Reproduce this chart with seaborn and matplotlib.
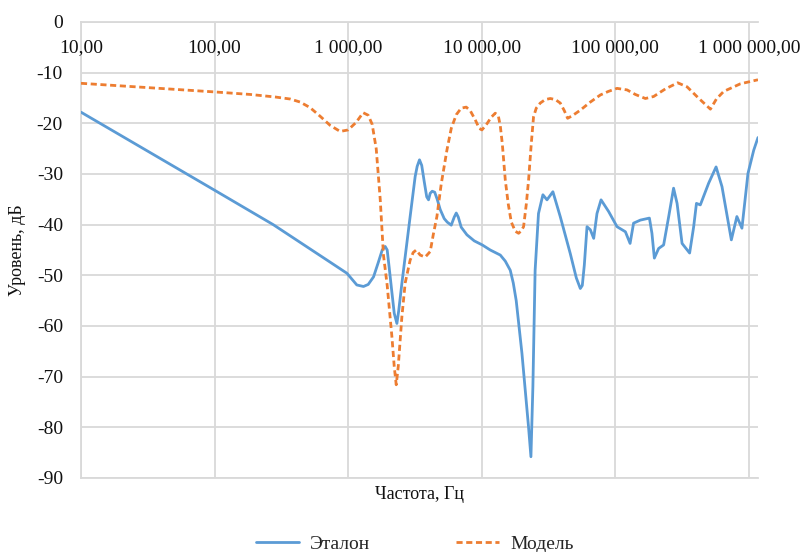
import numpy as np
import pandas as pd
import matplotlib
matplotlib.use("Agg")
import matplotlib.pyplot as plt
import seaborn as sns
from matplotlib.ticker import FixedLocator, NullLocator

# ---- data ----
freq_etalon = [10, 100, 275, 733, 980, 1161, 1302, 1413, 1549, 1679, 1799, 1893, 1960,
               2029, 2118, 2213, 2317, 2390, 2524, 2911, 3174, 3286, 3420, 3554, 3711,
               3873, 3996, 4115, 4259, 4446, 4643, 4887, 5236, 5518, 5913, 6226, 6446,
               6673, 7020, 7745, 8790, 10090, 11580, 13770, 15010, 16350, 17220, 18120,
               20000, 22400, 23350, 24150, 25100, 26600, 28700, 30800, 34100, 38700,
               46000, 51050, 54700, 56600, 58600, 61400, 65000, 68900, 72900, 78200,
               89100, 103000, 119000, 129000, 137000, 154000, 180000, 188000, 196000,
               211000, 230000, 251000, 273000, 290000, 316000, 360000, 386000, 405000,
               433000, 500000, 568000, 629000, 739000, 813000, 887000, 984000, 1087000,
               1170000]
level_etalon = [-17.8, -33.2, -40.0, -47.4, -49.6, -51.9, -52.2, -51.8, -50.3, -47.5, -45.0,
                -44.3, -45.0, -48.5, -53.0, -57.5, -59.5, -57.0, -51.6, -38.4, -30.5, -28.5,
                -27.2, -28.3, -31.5, -34.5, -35.1, -33.8, -33.4, -33.6, -35.0, -37.0, -38.8,
                -39.5, -40.1, -38.5, -37.7, -38.5, -40.5, -42.0, -43.2, -44.0, -45.0, -46.0,
                -47.2, -49.0, -51.5, -55.0, -65.4, -79.9, -85.8, -72.0, -49.0, -37.8, -34.1,
                -35.1, -33.5, -38.4, -45.7, -50.5, -52.6, -52.0, -48.0, -40.4, -41.0, -42.7,
                -37.8, -35.1, -37.4, -40.4, -41.4, -43.7, -39.7, -39.1, -38.7, -41.7, -46.6,
                -44.7, -44.0, -38.4, -32.8, -35.8, -43.7, -45.6, -40.4, -35.8, -36.1, -31.8,
                -28.6, -32.5, -43.0, -38.4, -40.7, -29.9, -25.3, -22.8]

freq_model = [10, 100, 185, 284, 368, 437, 519, 617, 733, 871, 1000, 1148, 1295, 1413,
              1513, 1622, 1738, 1838, 1960, 2124, 2213, 2290, 2371, 2524, 2673, 2911,
              3067, 3230, 3460, 3773, 4115, 4335, 4617, 4973, 5486, 5913, 6446, 7020,
              7656, 8203, 8939, 9578, 10030, 10800, 11780, 12620, 13300, 13770, 14250,
              15010, 15810, 16650, 17830, 18880, 19780, 20570, 21550, 22420, 23490,
              24430, 25600, 27420, 29920, 32590, 35550, 38730, 41500, 43950, 47650,
              54700, 65010, 77270, 88720, 103000, 122400, 141200, 167900, 193700,
              237100, 293200, 344600, 418900, 515100, 571100, 647700, 863600, 1170000]
level_model = [-12.1, -13.8, -14.3, -14.8, -15.2, -15.8, -16.9, -18.6, -20.4, -21.6, -21.3,
               -19.8, -17.9, -18.4, -20.2, -25.0, -35.0, -46.0, -52.0, -62.0, -68.0, -71.6,
               -68.0, -58.2, -51.5, -47.0, -45.5, -45.0, -46.0, -46.4, -45.3, -42.0, -38.4,
               -32.0, -25.3, -21.0, -18.3, -17.0, -16.8, -17.5, -19.3, -21.0, -21.3, -20.3,
               -18.8, -18.0, -18.5, -20.5, -24.0, -31.2, -36.0, -39.5, -41.3, -41.7, -41.2,
               -40.4, -36.0, -31.2, -24.0, -18.7, -17.0, -16.0, -15.3, -15.1, -15.3, -16.0,
               -17.5, -19.0, -18.5, -17.4, -15.8, -14.4, -13.7, -13.1, -13.4, -14.3, -15.1,
               -14.7, -13.2, -12.0, -12.8, -15.0, -17.2, -15.2, -13.7, -12.2, -11.4]

x_ticks = [10, 100, 1000, 10000, 100000, 1000000]
x_tick_labels = ["10,00", "100,00", "1 000,00", "10 000,00", "100 000,00", "1 000 000,00"]
y_ticks = [0, -10, -20, -30, -40, -50, -60, -70, -80, -90]
y_tick_labels = ["0", "-10", "-20", "-30", "-40", "-50", "-60", "-70", "-80", "-90"]

series_names = ["Эталон", "Модель"]
colors = ["#5B9BD5", "#ED7D31"]

# ---- plotting ----
sns.set_theme(style="white")
plt.rcParams["font.family"] = ["Liberation Serif", "DejaVu Serif"]

fig = plt.figure(figsize=(8.03, 5.52), dpi=100)
ax = fig.add_axes([81 / 803, 1 - 478 / 552, (758 - 81) / 803, (478 - 22) / 552])

df_e = pd.DataFrame({"f": freq_etalon, "L": level_etalon})
df_m = pd.DataFrame({"f": freq_model, "L": level_model})

sns.lineplot(data=df_e, x="f", y="L", ax=ax, color=colors[0], linewidth=2.0,
             label=series_names[0], sort=False)
sns.lineplot(data=df_m, x="f", y="L", ax=ax, color=colors[1], linewidth=2.0,
             linestyle=(0, (2.2, 1.3)), label=series_names[1], sort=False)
for line in ax.get_lines():
    line.set_solid_joinstyle("round")
    line.set_dash_joinstyle("round")
    line.set_zorder(3)

ax.set_xscale("log")
ax.set_xlim(10, 1170000)
ax.set_ylim(-90, 0)

ax.xaxis.set_major_locator(FixedLocator(x_ticks))
ax.xaxis.set_minor_locator(NullLocator())
ax.set_xticklabels(x_tick_labels)
ax.set_yticks(y_ticks)
ax.set_yticklabels(y_tick_labels)

ax.tick_params(axis="x", bottom=False, top=False, labelbottom=False, labeltop=True,
               labelsize=14, pad=-24.5, colors="#111111", length=0)
ax.tick_params(axis="y", left=False, labelsize=14, pad=13, colors="#111111", length=0)

ax.grid(True, which="major", color="#d9d9d9", linewidth=1.3)
ax.spines["right"].set_visible(False)
for side in ["left", "top", "bottom"]:
    ax.spines[side].set_color("#d9d9d9")
    ax.spines[side].set_linewidth(1.3)
    ax.spines[side].set_zorder(0.5)

ax.set_xlabel("Частота, Гц", fontsize=13, labelpad=6, color="#111111")
ax.set_ylabel("Уровень, дБ", fontsize=13, labelpad=8, color="#111111")

ax.get_legend().remove()
h, l = ax.get_legend_handles_labels()
fig.legend(h, l, loc="center", bbox_to_anchor=(415 / 803, 1 - 544 / 552), ncol=2,
           frameon=False, fontsize=14, handlelength=2.2, handletextpad=0.6,
           columnspacing=4.4)

fig.savefig("out.png", dpi=100)
